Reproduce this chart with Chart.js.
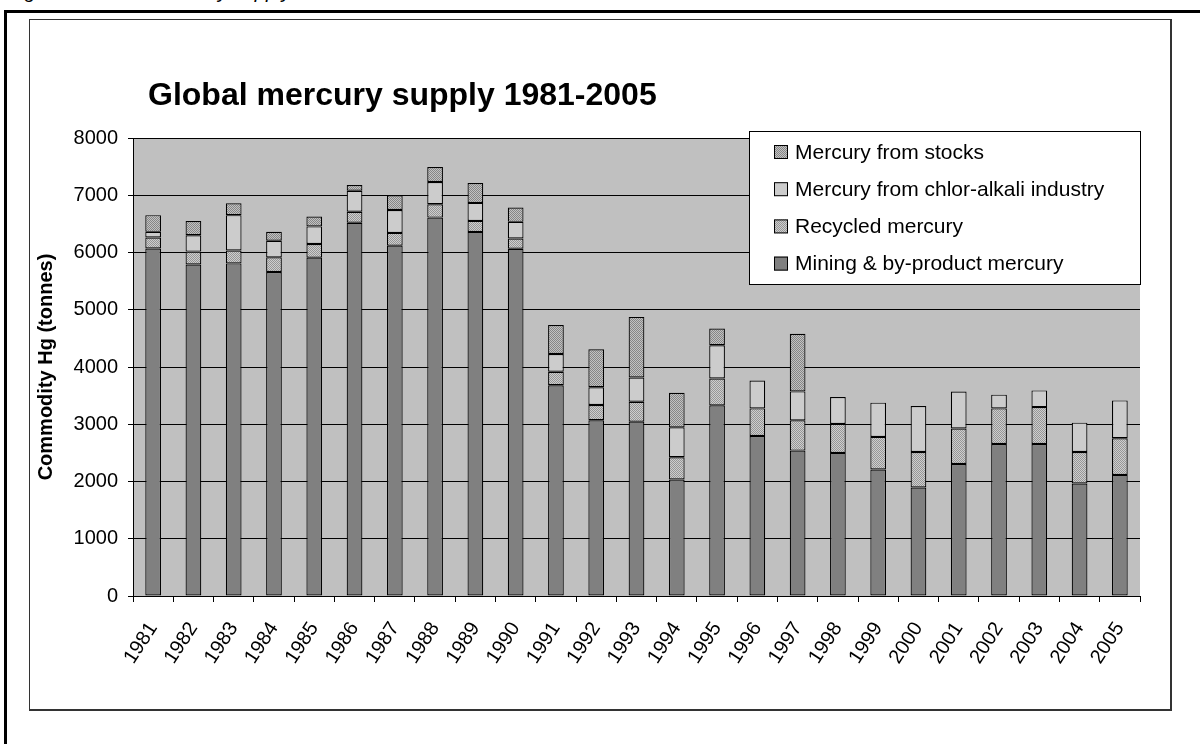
<!DOCTYPE html>
<html>
<head>
<meta charset="utf-8">
<title>Global mercury supply 1981-2005</title>
<script src="https://cdn.jsdelivr.net/npm/chart.js@4/dist/chart.umd.min.js"></script>
<style>
  html, body { margin: 0; padding: 0; background: #fff; }
  body { width: 1200px; height: 744px; position: relative; overflow: hidden; font-family: "Liberation Sans", Arial, sans-serif; }
  .caption { position: absolute; left: 8px; top: -19px; font-size: 20px; line-height: 20px; font-style: italic; color: #000; white-space: nowrap; }
  .frame { position: absolute; left: 4px; top: 10px; width: 1220px; height: 760px; border-left: 3px solid #000; border-top: 3px solid #000; }
  .box { position: absolute; left: 29px; top: 19px; width: 1140px; height: 689px; border: 1px solid #333; border-right-width: 2px; border-bottom-width: 2px; background: #fff; }
  #chart { position: absolute; left: 29px; top: 19px; }
</style>
</head>
<body>
<div class="caption">Figure 1: Global mercury supply</div>
<div class="frame"></div>
<div class="box"></div>
<canvas id="chart" width="1141" height="690"></canvas>
<script>
// tonnes per year
const years = ["1981", "1982", "1983", "1984", "1985", "1986", "1987", "1988", "1989", "1990",
  "1991", "1992", "1993", "1994", "1995", "1996", "1997", "1998", "1999", "2000",
  "2001", "2002", "2003", "2004", "2005"];
const mining = [6070, 5790, 5810, 5660, 5910, 6520, 6120, 6610, 6360, 6065,
  3680, 3070, 3045, 2035, 3330, 2795, 2540, 2500, 2210, 1895,
  2305, 2655, 2655, 1965, 2115];
const recycled = [192, 226, 226, 255, 238, 192, 222, 234, 192, 180,
  238, 267, 348, 388, 470, 482, 528, 506, 569, 620,
  622, 622, 645, 551, 640];
const chlorAlkali = [99, 285, 616, 290, 308, 366, 401, 388, 314, 290,
  310, 308, 424, 523, 581, 488, 506, 471, 598, 802,
  645, 240, 291, 512, 662];
const stocks = [291, 250, 209, 157, 174, 99, 256, 262, 348, 250,
  505, 663, 1058, 605, 291, 0, 1005, 0, 0, 0,
  0, 0, 0, 0, 0];
const yTicks = [0, 1000, 2000, 3000, 4000, 5000, 6000, 7000, 8000];

const FONT = "'Liberation Sans', Arial, sans-serif";
const ctx = document.getElementById("chart").getContext("2d");

// small dotted fill like the old Excel hatch
function dots(dark, light) {
  const c = document.createElement("canvas");
  c.width = 2;
  c.height = 2;
  const g = c.getContext("2d");
  g.fillStyle = light;
  g.fillRect(0, 0, 2, 2);
  g.fillStyle = dark;
  g.fillRect(0, 0, 1, 1);
  g.fillRect(1, 1, 1, 1);
  return ctx.createPattern(c, "repeat");
}

const plotBackground = {
  id: "plotBackground",
  beforeDraw(chart) {
    const a = chart.chartArea;
    const c = chart.ctx;
    c.save();
    c.fillStyle = "#c0c0c0";
    c.fillRect(a.left, a.top, a.right - a.left, a.bottom - a.top);
    c.restore();
  }
};

const titleAndLegend = {
  id: "titleAndLegend",
  afterDraw(chart) {
    const c = chart.ctx;
    const a = chart.chartArea;
    c.save();
    // title
    c.fillStyle = "#000";
    c.font = "bold 32px " + FONT;
    c.textBaseline = "middle";
    c.textAlign = "left";
    c.fillText("Global mercury supply 1981-2005", 119, 77);

    // legend box, inside the plot at the top right
    const left = 720, top = a.top - 7, right = a.right, bottom = top + 153;
    c.fillStyle = "#fff";
    c.fillRect(left, top, right - left, bottom - top);
    c.strokeStyle = "#000";
    c.lineWidth = 1;
    c.strokeRect(left + 0.5, top + 0.5, right - left, bottom - top);
    c.font = "21px " + FONT;
    const sets = chart.data.datasets.slice().reverse();
    sets.forEach((ds, i) => {
      const y = top + 21 + i * 37.2;
      c.fillStyle = ds.backgroundColor;
      c.fillRect(745, y - 7, 14, 14);
      c.strokeStyle = "#000";
      c.strokeRect(745.5, y - 6.5, 13, 13);
      c.fillStyle = "#000";
      c.fillText(ds.label, 766, y + 1);
    });
    c.restore();
  }
};

const barStyle = {
  borderColor: "#000",
  borderWidth: 1.2,
  borderSkipped: false,
  categoryPercentage: 1,
  barPercentage: 0.39
};

new Chart(ctx, {
  type: "bar",
  data: {
    labels: years,
    datasets: [
      Object.assign({ label: "Mining & by-product mercury", data: mining, backgroundColor: "#808080" }, barStyle),
      Object.assign({ label: "Recycled mercury", data: recycled, backgroundColor: dots("#969696", "#cecece") }, barStyle),
      Object.assign({ label: "Mercury from chlor-alkali industry", data: chlorAlkali, backgroundColor: "#cccccc" }, barStyle),
      Object.assign({ label: "Mercury from stocks", data: stocks, backgroundColor: dots("#868686", "#c2c2c2") }, barStyle)
    ]
  },
  options: {
    responsive: false,
    animation: false,
    layout: { padding: { top: 119, right: 30, bottom: 0, left: 0 } },
    plugins: {
      legend: { display: false },
      title: { display: false },
      tooltip: { enabled: false }
    },
    scales: {
      x: {
        stacked: true,
        afterFit(axis) { axis.height = 113; },
        border: { color: "#000", width: 1 },
        grid: { display: true, offset: true, drawOnChartArea: false, color: "#000", tickLength: 6 },
        ticks: { color: "#000", font: { family: FONT, size: 20 }, minRotation: 57, maxRotation: 57, autoSkip: false, padding: 16 }
      },
      y: {
        stacked: true,
        min: 0,
        max: 8000,
        afterFit(axis) { axis.width = 104; },
        afterBuildTicks(axis) { axis.ticks = yTicks.map(v => ({ value: v })); },
        border: { color: "#000", width: 1 },
        grid: { color: "#000", lineWidth: 1, tickLength: 5 },
        ticks: { color: "#000", font: { family: FONT, size: 20 }, padding: 10, callback: v => String(v) },
        title: {
          display: true,
          text: "Commodity Hg (tonnes)",
          color: "#000",
          font: { family: FONT, size: 20, weight: "bold" },
          padding: { top: 5, bottom: 0 }
        }
      }
    }
  },
  plugins: [plotBackground, titleAndLegend]
});
</script>
</body>
</html>
